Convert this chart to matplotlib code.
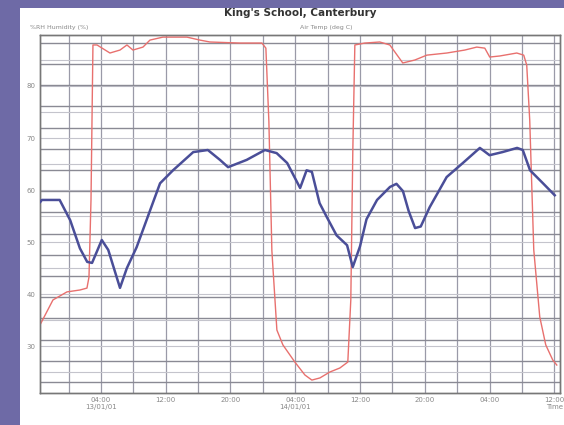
import matplotlib
matplotlib.use("Agg")
import matplotlib.pyplot as plt
from matplotlib.patches import Rectangle

# time axis in hours from 00:00 on 13/01/01
hum_hours = [-3.5, -3.3, -1.1, 0.2, 1.4, 2.3, 2.9, 4.1, 4.9, 6.35, 7.2, 8.4, 10.4, 11.3,
             12.9, 15.4, 17.2, 18.7, 19.7, 22.0, 24.25, 25.7, 27.0, 28.6, 29.4, 30.05,
             31.0, 31.9, 33.1, 34.4, 35.1, 36.0, 36.8, 38.1, 39.7, 40.5, 41.3, 42.0,
             42.8, 43.5, 44.6, 46.7, 48.7, 50.8, 52.0, 53.6, 55.4, 56.1, 57.0, 58.6, 60.05]
humidity = [57.7, 58.1, 58.1, 54.2, 48.8, 46.2, 46.0, 50.4, 48.5, 41.2, 45.0, 49.0, 57.5, 61.3,
            63.8, 67.3, 67.7, 65.8, 64.4, 65.8, 67.7, 67.1, 65.2, 60.4, 63.8, 63.5,
            57.5, 54.8, 51.3, 49.4, 45.2, 49.2, 54.4, 58.1, 60.6, 61.2, 59.8, 56.0,
            52.7, 53.0, 56.7, 62.5, 65.2, 68.1, 66.7, 67.3, 68.1, 67.7, 63.8, 61.3, 59.0]

temp_hours = [-3.53, -1.93, -0.2, 1.41, 2.27, 2.52, 2.77, 3.01, 3.51, 5.11, 6.35, 7.21, 7.95,
              9.19, 10.05, 11.65, 14.62, 16.22, 17.46, 21.16, 23.88, 24.37, 24.74, 25.11,
              25.73, 26.47, 27.95, 29.19, 30.05, 31.04, 32.27, 33.51, 34.49, 34.86, 35.11,
              35.36, 36.59, 38.44, 39.68, 41.28, 42.77, 44.25, 46.72, 48.94, 50.42, 51.41,
              52.02, 53.26, 55.36, 56.22, 56.59, 56.96, 57.46, 58.2, 58.94, 59.8, 60.3]
temperature = [8.69, 9.87, 10.25, 10.34, 10.43, 10.95, 14.6, 21.9, 21.9, 21.52, 21.66, 21.9,
               21.66, 21.8, 22.13, 22.27, 22.27, 22.13, 22.04, 21.99, 21.99, 21.75, 18.3,
               12.2, 8.45, 7.75, 6.94, 6.33, 6.09, 6.19, 6.47, 6.66, 6.94, 9.87, 16.94,
               21.9, 21.99, 22.04, 21.9, 21.05, 21.19, 21.42, 21.52, 21.66, 21.8, 21.75,
               21.33, 21.38, 21.52, 21.42, 20.95, 18.36, 12.23, 9.07, 7.75, 7.04, 6.8]

hum_ticks = [30, 40, 50, 60, 70, 80]
time_ticks = [4, 12, 20, 28, 36, 44, 52, 60]
time_labels = ["04:00\n13/01/01", "12:00", "20:00", "04:00\n14/01/01",
               "12:00", "20:00", "04:00", "12:00\nTime"]

fig = plt.figure(figsize=(5.64, 4.25), dpi=100, facecolor="#6e6aa6")
fig.patches.append(Rectangle((20 / 564, 0), 1, 417 / 425, transform=fig.transFigure,
                             facecolor="white", edgecolor="none", zorder=-5))

ax = fig.add_axes([40 / 564, 32 / 425, 520 / 564, 358 / 425])
ax2 = ax.twinx()
ax.set_facecolor("none")
ax2.set_zorder(1)
ax.set_zorder(2)

# grids
ax.set_xlim(-3.53, 60.7)
ax.set_ylim(21, 89.8)
ax2.set_ylim(5.48, 22.37)
for h in range(0, 61, 4):
    ax2.axvline(h, color="#9a9aa8", lw=0.9, zorder=1)
for v in range(25, 90, 5):
    ax2.axhline(5.48 + (v - 21) / (89.8 - 21) * (22.37 - 5.48), color="#c4c4cc", lw=0.8, zorder=1)
for t in range(6, 23):
    ax2.axhline(t, color="#8a8a94", lw=1.0, zorder=1)

ax2.plot(temp_hours, temperature, color="#e8706e", lw=1.0, zorder=3)
ax.plot(hum_hours, humidity, color="#4a4e98", lw=1.8, zorder=4)

ax.set_yticks(hum_ticks)
ax.set_yticklabels([str(v) for v in hum_ticks])
ax.set_xticks(time_ticks)
ax.set_xticklabels(time_labels)
ax.tick_params(labelsize=5, colors="#888888", length=0, pad=3)
ax2.set_yticks([])
for a in (ax, ax2):
    for s in a.spines.values():
        s.set_color("#777777")
        s.set_linewidth(1.0)

fig.text(300 / 564, 1 - 13 / 425, "King's School, Canterbury", ha="center", va="center",
         fontsize=7.5, fontweight="bold", color="#333333")
fig.text(30 / 564, 1 - 28 / 425, "%RH Humidity (%)", ha="left", va="center",
         fontsize=4.5, color="#888888")
fig.text(300 / 564, 1 - 28 / 425, "Air Temp (deg C)", ha="left", va="center",
         fontsize=4.5, color="#888888")

fig.savefig("out.png", dpi=100, facecolor=fig.get_facecolor())
